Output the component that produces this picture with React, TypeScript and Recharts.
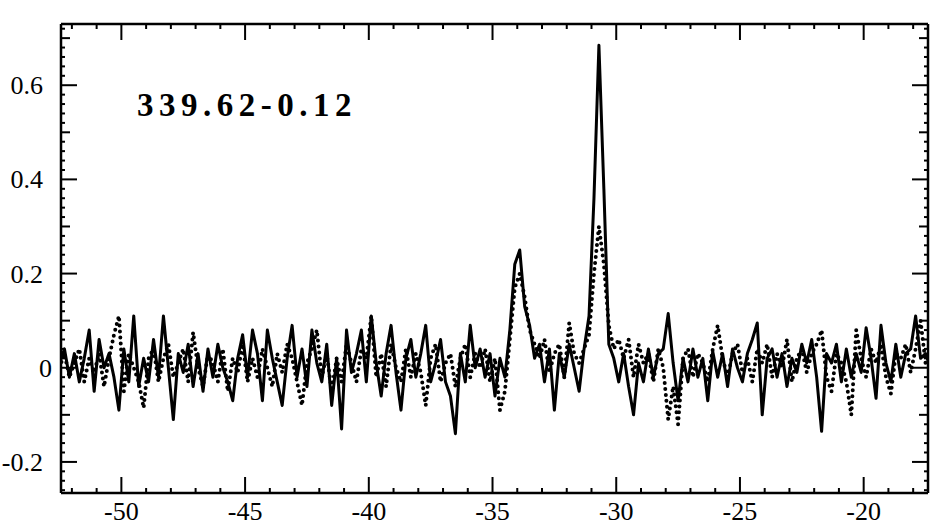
import React from "react"
import { LineChart, Line, XAxis, YAxis } from "recharts"

// channel grid (km/s)
const VELOCITY_START = -52.5
const CHANNEL_WIDTH = 0.2

// solid spectrum, one value per channel from -52.5 to -17.3
const SOLID = [
  0.01, 0.04, -0.02, 0.03, -0.03, 0.02, 0.08, -0.05, 0.06, 0.0,
  0.03, -0.02, -0.09, 0.04, -0.03, 0.11, -0.04, 0.02, -0.03, 0.06,
  -0.02, 0.11, 0.0, -0.11, 0.03, -0.01, 0.05, -0.04, 0.03, -0.05,
  0.04, -0.02, 0.05, 0.0, -0.03, -0.07, 0.02, 0.07, -0.02, 0.08,
  0.03, -0.07, 0.08, 0.02, -0.03, -0.08, 0.02, 0.09, -0.02, 0.04,
  -0.04, 0.08, 0.01, -0.03, 0.05, -0.08, 0.02, -0.13, 0.08, -0.01,
  0.03, 0.08, -0.03, 0.11, 0.01, -0.06, 0.03, 0.09, -0.01, -0.09,
  0.02, 0.06, -0.02, 0.03, 0.09, -0.03, 0.01, 0.06, -0.03, -0.06,
  -0.14, 0.03, -0.03, 0.09, 0.0, 0.04, -0.02, 0.03, -0.06, 0.02,
  -0.02, 0.08, 0.22, 0.25, 0.13, 0.09, 0.02, 0.05, -0.03, 0.04,
  -0.09, 0.03, -0.02, 0.05, 0.0, -0.05, 0.04, 0.11, 0.36, 0.685,
  0.38, 0.05, 0.02, -0.03, 0.03, -0.04, -0.1, 0.01, -0.03, 0.04,
  -0.02, 0.03, 0.04, 0.115, 0.01, -0.07, 0.02, -0.03, 0.04, -0.02,
  0.02, -0.07, 0.035, -0.02, 0.03, -0.04, 0.04, 0.0, -0.03, 0.03,
  0.06, 0.095, -0.1, 0.02, 0.04, -0.02, 0.03, -0.04, 0.02, -0.01,
  0.05, 0.01, 0.06, -0.02, -0.135, 0.03, 0.01, 0.05, -0.03, 0.04,
  -0.02, 0.03, -0.01, 0.085, 0.02, -0.065, 0.09, 0.01, -0.03, 0.05,
  -0.02, 0.03, 0.04, 0.11, 0.02, 0.03, 0.0,
]

// dotted spectrum, same channels
const DOTTED = [
  0.0, 0.03, -0.02, 0.01, 0.04, -0.03, 0.02, -0.01, 0.03, -0.04,
  0.02, 0.07, 0.11, -0.05, 0.03, 0.0, -0.03, -0.085, 0.02, 0.04,
  -0.03, 0.02, 0.05, -0.02, 0.01, 0.04, -0.03, 0.075, 0.0, -0.04,
  0.03, 0.01, -0.03, 0.04, -0.05, 0.02, -0.01, 0.05, -0.03, 0.02,
  -0.02, 0.04, 0.0, -0.04, 0.03, -0.01, 0.05, 0.02, -0.03, -0.08,
  0.01, 0.04, 0.08, -0.02, 0.03, -0.05, 0.02, -0.03, 0.05, 0.01,
  -0.03, 0.04, 0.02, 0.11, -0.02, 0.03, -0.04, 0.05, 0.0, -0.03,
  0.04, -0.02, 0.03, -0.01, -0.08, 0.02, 0.05, -0.03, 0.01, 0.03,
  -0.04, 0.02, 0.05, -0.02, 0.03, 0.0, 0.04, -0.03, 0.02, -0.09,
  -0.05, 0.06, 0.17, 0.2, 0.15, 0.08, 0.05, 0.02, 0.06, -0.01,
  0.03, 0.05, -0.02, 0.095, 0.03, 0.01, 0.04, 0.07, 0.2, 0.3,
  0.22, 0.09, 0.04, 0.06, 0.02, 0.06, -0.02, 0.05, 0.01, 0.03,
  -0.03, 0.04, 0.0, -0.11, -0.04, -0.12, 0.02, 0.04, -0.02, 0.03,
  0.01, -0.03, 0.04, 0.09, 0.02, -0.02, 0.03, 0.05, -0.01, 0.02,
  -0.03, 0.04, 0.01, 0.05, -0.02, 0.03, 0.0, 0.06, -0.03, 0.02,
  0.04, -0.01, 0.03, 0.05, 0.08, -0.02, -0.05, 0.03, 0.01, -0.03,
  -0.1, 0.08, 0.02, -0.02, 0.04, 0.01, 0.05, -0.02, -0.055, 0.03,
  0.02, 0.05, -0.01, 0.04, 0.1, 0.01, 0.03,
]

const X_TICKS = [
  -52, -51, -50, -49, -48, -47, -46, -45, -44, -43, -42, -41, -40, -39, -38,
  -37, -36, -35, -34, -33, -32, -31, -30, -29, -28, -27, -26, -25, -24, -23,
  -22, -21, -20, -19, -18,
]
// y ticks every 0.02
const Y_TICKS = Array.from({ length: 50 }, (_, k) => (k - 13) * 2 / 100)

const TITLE = "339.62-0.12"

const data = SOLID.map((s, i) => ({
  v: Math.round((VELOCITY_START + i * CHANNEL_WIDTH) * 10) / 10,
  solid: s,
  dotted: DOTTED[i],
}))

const BOX = { left: 61, top: 24, right: 928, bottom: 493 }
const FONT = "'Liberation Serif', 'Times New Roman', serif"
const X_DOMAIN = [-52.44, -17.4]
const Y_DOMAIN = [-0.266, 0.73]

const labelStyle = { fontFamily: FONT, fontSize: 26, fill: "#000" }

function XTick({ x, payload, side }: any) {
  const major = payload.value % 5 === 0
  const len = major ? 16 : 5
  const y0 = side === "bottom" ? BOX.bottom : BOX.top
  const dir = side === "bottom" ? -1 : 1
  return (
    <g>
      <line x1={x} x2={x} y1={y0} y2={y0 + dir * len} stroke="#000" strokeWidth={2} />
      {side === "bottom" && major && (
        <text x={x} y={BOX.bottom + 27} textAnchor="middle" style={labelStyle}>
          {payload.value}
        </text>
      )}
    </g>
  )
}

function YTick({ y, payload, side }: any) {
  const k = Math.round(payload.value * 100)
  const major = k % 20 === 0
  const medium = k % 10 === 0
  const len = major ? 16 : medium ? 9 : 4
  const x0 = side === "left" ? BOX.left : BOX.right
  const dir = side === "left" ? 1 : -1
  return (
    <g>
      <line x1={x0} x2={x0 + dir * len} y1={y} y2={y} stroke="#000" strokeWidth={2} />
      {side === "left" && major && (
        <text x={k === 0 ? 52 : 43} y={y + 9} textAnchor="end" style={labelStyle}>
          {k === 0 ? "0" : String(k / 100)}
        </text>
      )}
    </g>
  )
}

export default function App() {
  return (
    <div style={{ position: "absolute", left: 0, top: 0, width: 935, height: 526, background: "#fff" }}>
      <LineChart
        width={935}
        height={526}
        data={data}
        margin={{ top: BOX.top - 1, right: 935 - BOX.right - 1, bottom: 526 - BOX.bottom - 1, left: BOX.left - 1 }}
      >
        <XAxis
          xAxisId="bottom"
          dataKey="v"
          type="number"
          orientation="bottom"
          domain={X_DOMAIN}
          allowDataOverflow
          ticks={X_TICKS}
          interval={0}
          height={1}
          tickSize={0}
          tickLine={false}
          axisLine={{ stroke: "#000", strokeWidth: 2.5 }}
          tick={(p: any) => <XTick {...p} side="bottom" />}
        />
        <XAxis
          xAxisId="top"
          dataKey="v"
          type="number"
          orientation="top"
          domain={X_DOMAIN}
          allowDataOverflow
          ticks={X_TICKS}
          interval={0}
          height={1}
          tickSize={0}
          tickLine={false}
          axisLine={{ stroke: "#000", strokeWidth: 2.5 }}
          tick={(p: any) => <XTick {...p} side="top" />}
        />
        <YAxis
          yAxisId="left"
          type="number"
          orientation="left"
          domain={Y_DOMAIN}
          allowDataOverflow
          ticks={Y_TICKS}
          interval={0}
          width={1}
          tickSize={0}
          tickLine={false}
          axisLine={{ stroke: "#000", strokeWidth: 2.5 }}
          tick={(p: any) => <YTick {...p} side="left" />}
        />
        <YAxis
          yAxisId="right"
          type="number"
          orientation="right"
          domain={Y_DOMAIN}
          allowDataOverflow
          ticks={Y_TICKS}
          interval={0}
          width={1}
          tickSize={0}
          tickLine={false}
          axisLine={{ stroke: "#000", strokeWidth: 2.5 }}
          tick={(p: any) => <YTick {...p} side="right" />}
        />
        <Line
          xAxisId="top"
          yAxisId="right"
          type="linear"
          dataKey="dotted"
          stroke="#000"
          strokeWidth={4}
          strokeDasharray="0 6"
          strokeLinecap="round"
          dot={false}
          activeDot={false}
          isAnimationActive={false}
        />
        <Line
          xAxisId="bottom"
          yAxisId="left"
          type="linear"
          dataKey="solid"
          stroke="#000"
          strokeWidth={3}
          strokeLinejoin="round"
          dot={false}
          activeDot={false}
          isAnimationActive={false}
        />
      </LineChart>
      <div
        style={{
          position: "absolute",
          left: 137,
          top: 89,
          fontFamily: FONT,
          fontWeight: "bold",
          fontSize: 33,
          lineHeight: 1,
          letterSpacing: 5.5,
          color: "#000",
          whiteSpace: "nowrap",
        }}
      >
        {TITLE}
      </div>
    </div>
  )
}
